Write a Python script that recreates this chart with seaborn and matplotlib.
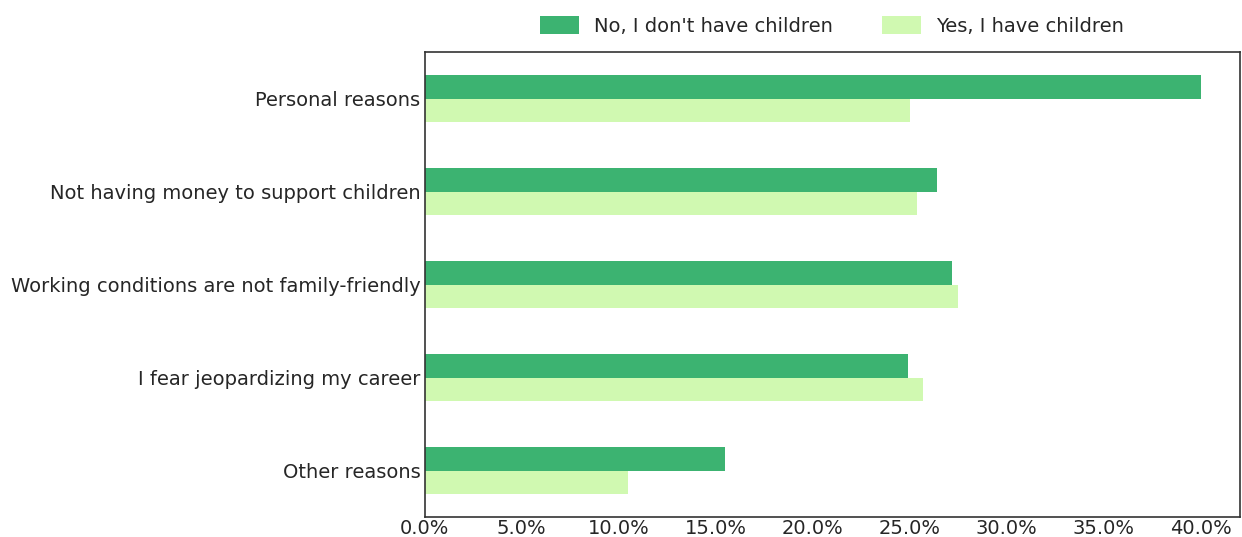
import pandas as pd
import matplotlib
matplotlib.use('Agg')
import matplotlib.pyplot as plt
from matplotlib.ticker import PercentFormatter, MultipleLocator
import seaborn as sns

# Datos (porcentajes)
reasons = ['Personal reasons', 'Not having money to support children',
           'Working conditions are not family-friendly', 'I fear jeopardizing my career',
           'Other reasons']
no_children = [40.0, 26.4, 27.2, 24.9, 15.5]
yes_children = [25.0, 25.4, 27.5, 25.7, 10.5]
groups = ["No, I don't have children", 'Yes, I have children']
colors = ['#3cb371', '#d0f9b1']

df = pd.DataFrame({
    'reason': reasons * 2,
    'group': [groups[0]] * len(reasons) + [groups[1]] * len(reasons),
    'value': no_children + yes_children,
})

sns.set_style('white')
plt.rcParams['font.family'] = ['DejaVu Sans']

fig, ax = plt.subplots(figsize=(12.42, 5.37), dpi=100)
sns.barplot(data=df, x='value', y='reason', hue='group', order=reasons, hue_order=groups,
            palette=colors, width=0.5, saturation=1, orient='h', linewidth=0, ax=ax)

ax.set_xlim(0, 42)
ax.set_ylim(4.5, -0.5)
ax.xaxis.set_major_locator(MultipleLocator(5))
ax.xaxis.set_major_formatter(PercentFormatter(xmax=100, decimals=1))
ax.set_xlabel('')
ax.set_ylabel('')
ax.tick_params(axis='y', labelsize=14, length=0, pad=3)
ax.tick_params(axis='x', labelsize=14, length=0, pad=1)
for s in ax.spines.values():
    s.set_color('#333333')
    s.set_linewidth(1.2)

ax.legend(loc='lower center', bbox_to_anchor=(0.5, 0.998), ncol=2, frameon=False,
          fontsize=14, handlelength=2.0, handleheight=1.0, columnspacing=2.5)

plt.subplots_adjust(left=0.342, right=0.998, top=0.903, bottom=0.037)
plt.savefig('out.png')
plt.close()
